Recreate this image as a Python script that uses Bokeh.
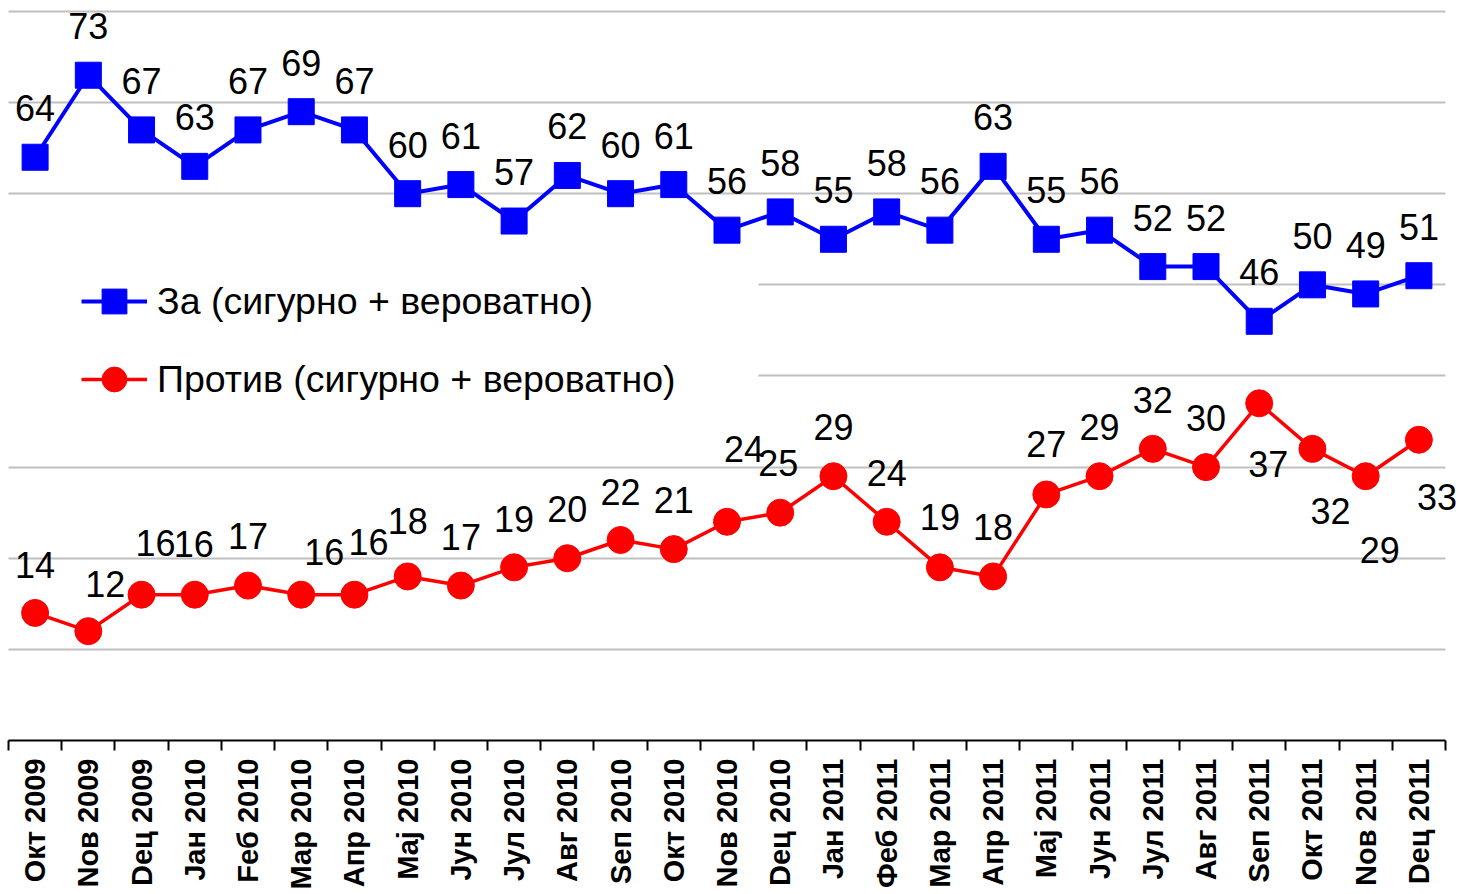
import math
from bokeh.plotting import figure
from bokeh.models import (ColumnDataSource, FixedTicker, Legend, LegendItem,
                          BoxAnnotation, Range1d, Grid)
from bokeh.core.properties import value
from bokeh.embed import file_html
from bokeh.resources import INLINE

# ---------------- data ----------------
months = ["Окт 2009", "Nов 2009", "Deц 2009", "Јан 2010", "Feб 2010", "Мар 2010",
          "Апр 2010", "Мај 2010", "Јун 2010", "Јул 2010", "Авг 2010", "Seп 2010",
          "Окт 2010", "Nов 2010", "Deц 2010", "Јан 2011", "Феб 2011", "Мар 2011",
          "Апр 2011", "Мај 2011", "Јун 2011", "Јул 2011", "Авг 2011", "Seп 2011",
          "Окт 2011", "Nов 2011", "Deц 2011"]
za = [64, 73, 67, 63, 67, 69, 67, 60, 61, 57, 62, 60, 61, 56, 58, 55, 58, 56, 63,
      55, 56, 52, 52, 46, 50, 49, 51]
protiv = [14, 12, 16, 16, 17, 16, 16, 18, 17, 19, 20, 22, 21, 24, 25, 29, 24, 19,
          18, 27, 29, 32, 30, 37, 32, 29, 33]
za_name = "За (сигурно + вероватно)"
protiv_name = "Против (сигурно + вероватно)"
grid_values = [10, 20, 30, 40, 50, 60, 70, 80]

# ---------------- label placement (screen px) ----------------
za_label_dy = -49
protiv_label_dx = [0, 17, 14, -1, 0, 23, 14, 0, 0, 0, 0, 0, 0, 17, -2, 0, 0, 0,
                   0, 0, 0, 0, 0, 9, 18, 14, 18]
protiv_label_dy = [-48, -47, -52, -51, -50, -43, -53, -55, -49, -48, -49, -48, -49,
                   -73, -50, -49, -49, -50, -49, -50, -49, -49, -49, 61, 62, 74, 57]

FONT = "Liberation Sans"
BLUE = "#0000ff"
RED = "#ff0000"

n = len(months)
xs = list(range(n))

p = figure(width=1458, height=892,
           x_range=Range1d(-0.650, 26.744), y_range=Range1d(0, 81.2),
           output_backend="svg", toolbar_location=None,
           min_border_left=0, min_border_top=0, min_border_right=0,
           min_border_bottom=152)
p.outline_line_color = None
p.background_fill_color = "white"
p.border_fill_color = "white"
p.yaxis.visible = False
p.xgrid.visible = False

p.ygrid.ticker = FixedTicker(ticks=grid_values)
p.ygrid.grid_line_color = "#c0c0c0"
p.ygrid.grid_line_width = 2
if "cross_bounds" in Grid.properties():
    p.ygrid.cross_bounds = (-0.5, 26.5)

ax = p.xaxis[0]
ax.ticker = FixedTicker(ticks=xs, minor_ticks=[i - 0.5 for i in range(n + 1)])
ax.major_label_overrides = {i: m for i, m in enumerate(months)}
ax.bounds = (-0.5, 26.5)
ax.axis_line_color = "black"
ax.axis_line_width = 2
ax.major_tick_line_color = None
ax.major_tick_out = 0
ax.major_tick_in = 0
ax.minor_tick_line_color = "black"
ax.minor_tick_line_width = 2
ax.minor_tick_out = 10
ax.minor_tick_in = 0
ax.major_label_orientation = math.pi / 2
ax.major_label_text_font = FONT
ax.major_label_text_font_style = "bold"
ax.major_label_text_font_size = "29px"
ax.major_label_text_color = "black"
ax.major_label_standoff = 8

# white area behind the legend (hides gridlines there)
cover = BoxAnnotation(left=-0.650, right=13.59, bottom=30.95, top=59.26,
                      fill_color="white", fill_alpha=1.0, line_color=None,
                      level="underlay")
p.add_layout(cover)

src_za = ColumnDataSource(dict(x=xs, y=za, t=[str(v) for v in za],
                               dy=[za_label_dy] * n))
src_pr = ColumnDataSource(dict(x=xs, y=protiv, t=[str(v) for v in protiv],
                               dx=protiv_label_dx, dy=protiv_label_dy))

lz = p.line("x", "y", source=src_za, line_color=BLUE, line_width=4)
sz = p.scatter("x", "y", source=src_za, marker="square", size=26,
               fill_color=BLUE, line_color=BLUE)
lp = p.line("x", "y", source=src_pr, line_color=RED, line_width=3.5)
sp = p.scatter("x", "y", source=src_pr, marker="circle", size=27,
               fill_color=RED, line_color=RED)

p.text("x", "y", text="t", source=src_za, y_offset="dy",
       text_align="center", text_baseline="middle",
       text_font=value(FONT), text_font_size="36px", text_color="black")
p.text("x", "y", text="t", source=src_pr, x_offset="dx", y_offset="dy",
       text_align="center", text_baseline="middle",
       text_font=value(FONT), text_font_size="36px", text_color="black")

legend = Legend(items=[LegendItem(label=za_name, renderers=[lz, sz]),
                       LegendItem(label=protiv_name, renderers=[lp, sp])],
                location=(81, 330), padding=10, spacing=16, margin=0,
                glyph_width=66, glyph_height=62, label_height=62,
                label_standoff=10, label_text_font=FONT,
                label_text_font_size="37.5px", label_text_color="black",
                background_fill_alpha=0, border_line_color=None)
p.add_layout(legend)

open("out.html", "w").write(file_html(p, INLINE))
